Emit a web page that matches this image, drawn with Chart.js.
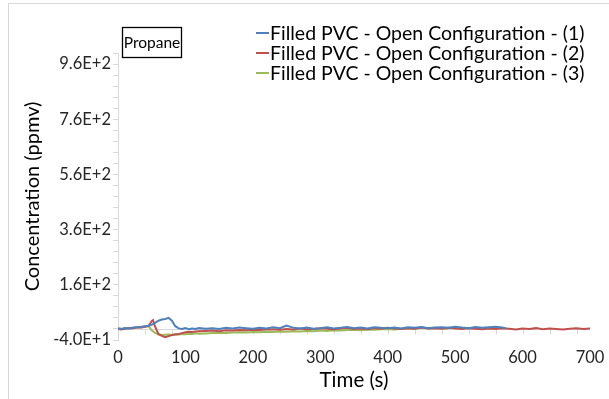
<!DOCTYPE html>
<html>
<head>
<meta charset="utf-8">
<script src="https://cdn.jsdelivr.net/npm/chart.js@4.4.1/dist/chart.umd.min.js"></script>
<style>
    html, body { margin: 0; padding: 0; background: #ffffff; }
    #wrap { width: 609px; height: 399px; }
</style>
</head>
<body>
<div id="wrap"><canvas id="grafico"></canvas></div>
<script>
// dados (tempo em s, concentracao em ppmv)
const nomes_series = ['Filled PVC - Open Configuration - (1)', 'Filled PVC - Open Configuration - (2)', 'Filled PVC - Open Configuration - (3)'];
const cores = ['#4F81BD', '#C0504D', '#9BBB59'];
const titulo_caixa = 'Propane';

const tempo_1 = [0, 5, 10, 15, 20, 25, 30, 35, 40, 45, 50, 55, 60, 65, 70, 75, 80, 85, 90, 95, 100, 105, 110, 115, 120,
    130, 140, 150, 160, 170, 180, 190, 200, 210, 220, 230, 240, 250, 260, 270, 280, 290, 300, 310, 320, 330, 340, 350,
    360, 370, 380, 390, 400, 410, 420, 430, 440, 450, 460, 470, 480, 490, 500, 510, 520, 530, 540, 550, 560, 570, 575];
const valores_1 = [2, 0, 3, 1, 4, 5, 6, 8, 10, 12, 15, 22, 30, 34, 36, 40, 30, 10, 2, 0, 3, -1, 2, 0, 3,
    1, 3, 0, 4, 2, 5, 3, 1, 4, 2, 6, 3, 12, 4, 2, 5, 1, 3, 6, 2, 4, 7, 3,
    5, 2, 6, 4, 3, 5, 2, 6, 4, 7, 3, 5, 6, 4, 8, 5, 3, 7, 4, 6, 8, 5, 3];

const tempo_2 = [0, 5, 10, 15, 20, 25, 30, 35, 40, 45, 50, 52, 55, 60, 65, 70, 75, 80, 85, 90, 95, 100, 105, 110, 115, 120,
    130, 140, 150, 160, 170, 180, 190, 200, 210, 220, 230, 240, 250, 260, 270, 280, 290, 300, 310, 320, 330, 340, 350,
    360, 370, 380, 390, 400, 410, 420, 430, 440, 450, 460, 470, 480, 490, 500, 510, 520, 530, 540, 550, 560, 570,
    580, 590, 600, 610, 620, 630, 640, 650, 660, 670, 680, 690, 700];
const valores_2 = [0, -2, 1, 3, 2, 4, 6, 5, 8, 10, 28, 32, 8, -18, -25, -30, -26, -22, -20, -18, -15, -12, -10, -11, -9, -8,
    -7, -6, -8, -5, -6, -4, -5, -3, -4, -2, -1, -3, 0, -2, 2, -1, 0, 3, 1, -1, 2, 4, 0,
    2, -1, 3, 1, 4, 2, 0, 3, 1, 5, 2, 3, 1, 4, 2, 0, 3, 1, -1, 2, 0, 3,
    1, -2, 2, 0, 3, -1, 2, 0, -2, 1, 3, 0, 2];

const tempo_3 = [0, 5, 10, 15, 20, 25, 30, 35, 40, 45, 50, 55, 60, 65, 70, 75, 80, 85, 90, 95, 100, 105, 110, 115, 120,
    130, 140, 150, 160, 170, 180, 190, 200, 210, 220, 230, 240, 250, 260, 270, 280, 290, 300, 310, 320, 330, 340, 350,
    360, 370, 380, 390, 400, 410, 420, 430, 440, 450, 460, 470, 480, 490];
const valores_3 = [3, 1, 2, 4, 3, 5, 7, 6, 9, 11, -5, -14, -20, -22, -21, -20, -22, -19, -20, -18, -19, -17, -18, -16, -17,
    -16, -15, -14, -15, -13, -12, -13, -11, -12, -10, -11, -9, -10, -8, -9, -7, -8, -6, -7, -5, -6, -4, -3,
    -5, -2, -3, -1, 0, -2, 1, 3, 0, 5, 2, 4, 3, 1];

const eixo_y_min = -40;
const eixo_y_max = 1000;
const eixo_x_min = 0;
const eixo_x_max = 700;

function juntar(tempos, valores) {
    var pontos = [];
    for (var i = 0; i < tempos.length; i++) {
        pontos.push({ x: tempos[i], y: valores[i] });
    }
    return pontos;
}

const fonte = 'Lato, "Liberation Sans", sans-serif';

// borda do grafico, caixa "Propane", legenda e eixo horizontal no zero
const desenhosExtras = {
    id: 'desenhosExtras',
    beforeDraw(chart) {
        const ctx = chart.ctx;
        ctx.save();
        ctx.strokeStyle = '#d9d9d9';
        ctx.lineWidth = 1;
        ctx.strokeRect(8.5, 3.5, 640, 440);
        ctx.restore();
    },
    beforeDatasetsDraw(chart) {
        const ctx = chart.ctx;
        const x = chart.scales.x;
        const y = chart.scales.y;
        const y0 = Math.round(y.getPixelForValue(0)) + 0.5;
        ctx.save();
        ctx.strokeStyle = '#d9d9d9';
        ctx.lineWidth = 1;
        ctx.beginPath();
        ctx.moveTo(x.left, y0);
        ctx.lineTo(x.right, y0);
        for (var t = 0; t <= eixo_x_max; t += 40) {
            var px = Math.round(x.getPixelForValue(t)) + 0.5;
            ctx.moveTo(px, y0);
            ctx.lineTo(px, y0 + 5);
        }
        ctx.stroke();
        ctx.restore();
    },
    afterDraw(chart) {
        const ctx = chart.ctx;
        ctx.save();
        // caixa Propane
        ctx.strokeStyle = '#000000';
        ctx.lineWidth = 1.3;
        ctx.strokeRect(122.5, 27.5, 59, 30);
        ctx.fillStyle = '#000000';
        ctx.font = '15.5px ' + fonte;
        ctx.textBaseline = 'middle';
        ctx.textAlign = 'center';
        ctx.fillText(titulo_caixa, 152, 43);

        // legenda
        ctx.textAlign = 'left';
        ctx.font = '19.5px ' + fonte;
        for (var i = 0; i < nomes_series.length; i++) {
            var ly = 33 + i * 20;
            ctx.strokeStyle = cores[i];
            ctx.lineWidth = 2;
            ctx.beginPath();
            ctx.moveTo(256, ly);
            ctx.lineTo(269, ly);
            ctx.stroke();
            ctx.fillStyle = '#000000';
            ctx.fillText(nomes_series[i], 270, ly + 1);
        }
        ctx.restore();
    }
};

const series = [juntar(tempo_1, valores_1), juntar(tempo_2, valores_2), juntar(tempo_3, valores_3)];

new Chart(document.getElementById('grafico'), {
    type: 'line',
    data: {
        datasets: [
            { label: nomes_series[0], data: series[0], borderColor: cores[0], borderWidth: 2, pointRadius: 0, tension: 0 },
            { label: nomes_series[1], data: series[1], borderColor: cores[1], borderWidth: 2, pointRadius: 0, tension: 0 },
            { label: nomes_series[2], data: series[2], borderColor: cores[2], borderWidth: 2, pointRadius: 0, tension: 0 }
        ]
    },
    options: {
        responsive: true,
        maintainAspectRatio: false,
        animation: false,
        layout: {
            padding: { left: 18, top: 53, right: 19, bottom: 6 }
        },
        scales: {
            x: {
                type: 'linear',
                min: eixo_x_min,
                max: eixo_x_max,
                afterFit: function (escala) { escala.height = 53; },
                ticks: {
                    stepSize: 100,
                    color: '#262626',
                    padding: 0,
                    maxRotation: 0,
                    font: { family: fonte, size: 16.5 }
                },
                grid: { display: false },
                border: { display: false },
                title: {
                    display: true,
                    text: 'Time (s)',
                    color: '#000000',
                    padding: { top: 0, bottom: 0 },
                    font: { family: fonte, size: 20.5 }
                }
            },
            y: {
                min: eixo_y_min,
                max: eixo_y_max,
                afterFit: function (escala) { escala.width = 100; },
                afterBuildTicks: function (escala) {
                    var lista = [];
                    for (var v = eixo_y_min; v <= eixo_y_max; v += 40) {
                        lista.push({ value: v });
                    }
                    escala.ticks = lista;
                },
                ticks: {
                    autoSkip: false,
                    color: '#262626',
                    padding: 2,
                    font: { family: fonte, size: 16.5 },
                    callback: function (valor) {
                        if ((valor - eixo_y_min) % 200 === 0 && valor <= 960) {
                            return valor.toExponential(1).toUpperCase();
                        }
                        return '';
                    }
                },
                grid: {
                    drawOnChartArea: false,
                    color: '#d9d9d9',
                    tickLength: 5
                },
                border: { color: '#d9d9d9' },
                title: {
                    display: true,
                    text: 'Concentration (ppmv)',
                    color: '#000000',
                    padding: { top: 3, bottom: 0 },
                    font: { family: fonte, size: 20 }
                }
            }
        },
        plugins: {
            legend: { display: false },
            tooltip: { enabled: false }
        }
    },
    plugins: [desenhosExtras]
});
</script>
</body>
</html>
